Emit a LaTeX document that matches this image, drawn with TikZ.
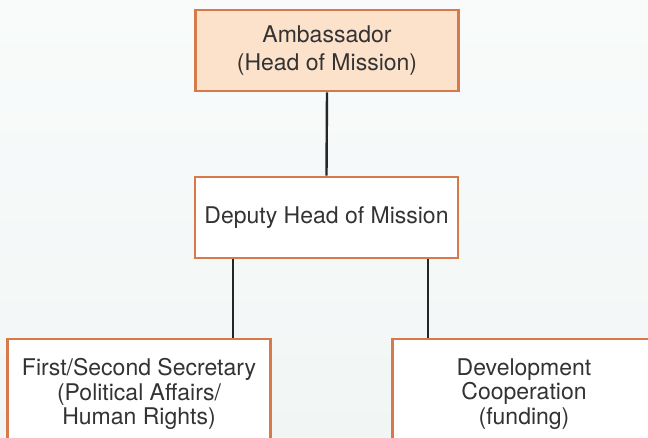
\documentclass[tikz,border=0pt]{standalone}
\usepackage{fontspec}
\setmainfont{TeX Gyre Heros}
\definecolor{boxline}{HTML}{D8794C}
\definecolor{boxfill}{HTML}{FDE2CB}
\definecolor{txtgrey}{HTML}{333333}
\definecolor{bgtop}{HTML}{F9FBFB}
\definecolor{bgbot}{HTML}{F1F6F5}
\tikzset{
  post/.style={draw=boxline, line width=2.6pt, fill=white, text=txtgrey,
    minimum width=263pt, align=center, inner sep=0pt,
    font=\fontsize{23}{27.7}\selectfont},
  link/.style={draw=black!85, line width=2.4pt}
}
\begin{document}
\begin{tikzpicture}[x=1pt,y=-1pt]
    % background
    \shade[top color=bgtop, bottom color=bgbot] (0,0) rectangle (648,438);
    \useasboundingbox (0,0) rectangle (648,438);
    \clip (0,0) rectangle (648,438);

    % boxes
    \node[post, fill=boxfill, minimum height=81pt] (amb) at (327,50.5) {Ambassador\\(Head of Mission)};
    \node[post, minimum height=81pt] (dep) at (326.5,217.5) {Deputy Head of Mission};
    \node[post, minimum height=110pt, font=\fontsize{23}{24.5}\selectfont] (sec) at (139,394) {First/Second Secretary\\(Political Affairs/\\Human Rights)};
    \node[post, minimum height=110pt, font=\fontsize{23}{24.5}\selectfont] (dev) at (524,394) {Development\\Cooperation\\(funding)};

    % lines
    \draw[link] (amb.south) -- (dep.north);
    \draw[link] ([xshift=-93.5pt]dep.south) -- ([xshift=-93.5pt]dep.south |- sec.north);
    \draw[link] ([xshift=101.5pt]dep.south) -- ([xshift=101.5pt]dep.south |- dev.north);
\end{tikzpicture}
\end{document}
